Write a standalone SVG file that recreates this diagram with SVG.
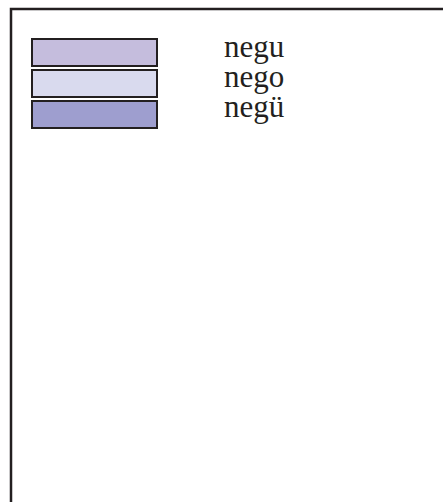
<svg xmlns="http://www.w3.org/2000/svg" width="443" height="502" viewBox="0 0 443 502">
<style>
.sw{stroke:#231f20;stroke-width:2}
.lbl{font-family:"Liberation Serif","Times New Roman",serif;font-size:31px;fill:#231f20}
</style>
<rect width="443" height="502" fill="#ffffff"/>
<g id="frame"><path d="M11 502 V9 H443" fill="none" stroke="#231f20" stroke-width="2.5"/></g>
<g id="legend-negu"><rect class="sw" x="32" y="39" width="125" height="27" fill="#c5bddd"/><text class="lbl" x="224" y="57">negu</text></g>
<g id="legend-nego"><rect class="sw" x="32" y="70" width="125" height="27" fill="#d9daee"/><text class="lbl" x="224" y="87">nego</text></g>
<g id="legend-negue"><rect class="sw" x="32" y="101" width="125" height="27" fill="#9e9ecf"/><text class="lbl" x="224" y="117">negü</text></g>
<g id="connectors"/>
</svg>
